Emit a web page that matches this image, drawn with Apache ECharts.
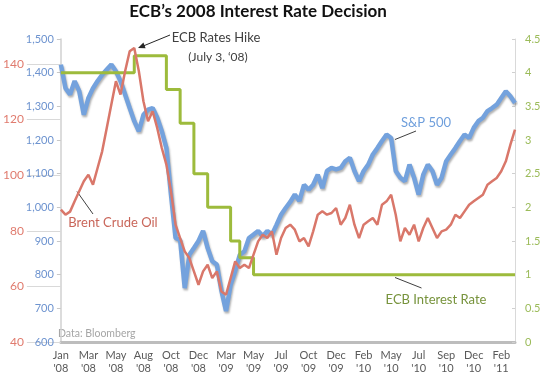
<!DOCTYPE html>
<html>
<head>
<meta charset="utf-8">
<script src="https://cdn.jsdelivr.net/npm/echarts@6/dist/echarts.min.js"></script>
<style>
  html, body { margin: 0; padding: 0; background: #fff; }
  #chart { width: 547px; height: 378px; }
</style>
</head>
<body>
<div id="chart"></div>
<script>
// one label every 6 points
var tickLabels = ["Jan\n'08", "Mar\n'08", "May\n'08", "Aug\n'08", "Oct\n'08", "Dec\n'08", "Mar\n'09", "May\n'09", "Jul\n'09",
    "Oct\n'09", "Dec\n'09", "Feb\n'10", "May\n'10", "Jul\n'10", "Sep\n'10", "Dec\n'10", "Feb\n'11"];

// S&P 500 (left, blue scale)
var spx = [1424,1354,1335,1375,1345,1275,1325,1354,1375,1394,
    1409,1424,1404,1375,1335,1295,1256,1226,1275,1290,
    1295,1266,1226,1176,1038,909,903,760,859,879,
    900,930,879,840,830,752,692,770,811,859,
    869,909,919,930,914,930,919,948,978,998,
    1016,1038,1019,1067,1052,1067,1097,1057,1108,1117,
    1113,1117,1137,1147,1108,1078,1108,1127,1157,1176,
    1197,1216,1206,1108,1088,1078,1127,1088,1038,1097,
    1127,1108,1067,1088,1137,1157,1176,1197,1216,1206,
    1236,1256,1266,1286,1295,1305,1325,1345,1330,1310];

// Brent crude (left, red scale)
var brent = [87.6,85.8,86.9,90.6,94.2,97.8,100.2,96.6,102.6,108.6,
    117,125.4,133.8,129,137.4,144.6,145.8,137.4,126.6,119.4,
    123,117,109.8,103.8,94.2,82.2,77.4,72.6,70.2,65.4,
    60.6,65.4,67.8,63,65.4,58.2,57,63,69,66.6,
    67.8,66.6,71.4,76.2,78.6,77.4,79.8,71.4,77.4,81,
    82.2,80.4,76.2,77.4,74.4,79.8,85.8,87,85.8,86.4,
    88.2,82.2,84.6,89.4,82.2,77.4,82.2,83.4,84.6,82.2,
    89.4,90.6,93,85.8,76.2,81,78.6,82.2,76.2,81,
    84.6,81,77.4,79.8,80.4,82.2,85.8,84.6,87,89.4,
    90.6,91.8,93,96.6,97.8,99,101.4,105,111,116.4];

// ECB rate (right scale)
var ecbRate = [4,4,4,4,4,4,4,4,4,4,
    4,4,4,4,4,4,4.25,4.25,4.25,4.25,
    4.25,4.25,4.25,3.75,3.75,3.75,3.25,3.25,3.25,2.5,
    2.5,2.5,2,2,2,2,2,1.5,1.5,1.25,
    1.25,1.25,1,1,1,1,1,1,1,1,
    1,1,1,1,1,1,1,1,1,1,
    1,1,1,1,1,1,1,1,1,1,
    1,1,1,1,1,1,1,1,1,1,
    1,1,1,1,1,1,1,1,1,1,
    1,1,1,1,1,1,1,1,1,1];

var brentTicks = [40, 60, 80, 100, 120, 140];

var categories = [];
for (var i = 0; i < spx.length; i++) {
    categories.push('p' + i);
}

var font = 'Lato, "Open Sans", sans-serif';
var chart = echarts.init(document.getElementById('chart'));

var option = {
    animation: false,
    backgroundColor: '#fff',
    textStyle: { fontFamily: font },
    grid: { left: 56, right: 32, top: 39, bottom: 36, containLabel: false },
    xAxis: {
        type: 'category',
        data: categories,
        boundaryGap: false,
        axisLine: { onZero: false, lineStyle: { color: '#bdbdbd', width: 3 } },
        axisTick: { show: false },
        axisLabel: {
            interval: 5,
            margin: 7,
            color: '#595959',
            fontSize: 11,
            lineHeight: 13,
            fontFamily: font,
            formatter: function (v, idx) {
                return tickLabels[Math.round(idx / 6)];
            }
        },
        splitLine: { show: false }
    },
    yAxis: [
        {
            type: 'value',
            position: 'left',
            min: 600,
            max: 1500,
            interval: 100,
            axisLine: { show: true, lineStyle: { color: '#d0d0d0', width: 1.5 } },
            axisTick: { show: true, length: 4, lineStyle: { color: '#c8c8c8' } },
            axisLabel: {
                margin: 7,
                color: '#6d93cf',
                fontSize: 11,
                fontFamily: font,
                formatter: function (v) { return v.toLocaleString('en-US'); }
            },
            splitLine: { show: false }
        },
        {
            type: 'value',
            position: 'left',
            min: 40,
            max: 149,
            axisLine: { show: false },
            axisTick: { show: true, length: 34, customValues: brentTicks, lineStyle: { color: '#d9d9d9' } },
            axisLabel: {
                margin: 37,
                color: '#e07b6e',
                fontSize: 12,
                fontFamily: font,
                customValues: brentTicks
            },
            splitLine: { show: false }
        },
        {
            type: 'value',
            position: 'right',
            min: 0,
            max: 4.5,
            interval: 0.5,
            axisLine: { show: true, lineStyle: { color: '#d9d9d9', width: 1 } },
            axisTick: { show: true, inside: true, length: 3, lineStyle: { color: '#d0d0d0' } },
            axisLabel: { margin: 10, color: '#9bbb59', fontSize: 11, fontFamily: font },
            splitLine: { show: false }
        }
    ],
    series: [
        {
            name: 'S&P 500',
            type: 'line',
            yAxisIndex: 0,
            data: spx,
            symbol: 'none',
            lineStyle: {
                color: '#74a2dd',
                width: 4.5,
                shadowColor: 'rgba(0,0,0,0.3)',
                shadowBlur: 2,
                shadowOffsetX: 1,
                shadowOffsetY: 2
            },
            z: 2
        },
        {
            name: 'ECB Interest Rate',
            type: 'line',
            yAxisIndex: 2,
            data: ecbRate,
            step: 'end',
            symbol: 'none',
            lineStyle: { color: '#9dbb3c', width: 3 },
            z: 3
        },
        {
            name: 'Brent Crude Oil',
            type: 'line',
            yAxisIndex: 1,
            data: brent,
            symbol: 'none',
            lineStyle: { color: '#d9776a', width: 2.5 },
            z: 4
        }
    ],
    graphic: [
        { type: 'text', x: 258, y: 12, style: { text: 'ECB\u2019s 2008 Interest Rate Decision', fill: '#111', font: 'bold 17px ' + font, align: 'center', verticalAlign: 'middle' } },
        { type: 'text', x: 216, y: 38, style: { text: 'ECB Rates Hike', fill: '#404040', font: '13px ' + font, align: 'center', verticalAlign: 'middle' } },
        { type: 'text', x: 218, y: 57, style: { text: '(July 3, \u201808)', fill: '#404040', font: '12px ' + font, align: 'center', verticalAlign: 'middle' } },
        { type: 'line', shape: { x1: 170, y1: 35, x2: 142, y2: 46.5 }, style: { stroke: '#262626', lineWidth: 1 } },
        { type: 'polygon', shape: { points: [[138, 48], [145.6, 48.2], [143.4, 42.6]] }, style: { fill: '#262626' } },
        { type: 'text', x: 426, y: 123, style: { text: 'S&P 500', fill: '#6f9fdc', font: '13px ' + font, align: 'center', verticalAlign: 'middle' } },
        { type: 'line', shape: { x1: 416, y1: 131, x2: 395, y2: 139.5 }, style: { stroke: '#404040', lineWidth: 1 } },
        { type: 'text', x: 113, y: 223, style: { text: 'Brent Crude Oil', fill: '#c9665a', font: '13px ' + font, align: 'center', verticalAlign: 'middle' } },
        { type: 'line', shape: { x1: 93, y1: 214, x2: 77, y2: 191.5 }, style: { stroke: '#404040', lineWidth: 1 } },
        { type: 'text', x: 436, y: 300, style: { text: 'ECB Interest Rate', fill: '#77933c', font: '13px ' + font, align: 'center', verticalAlign: 'middle' } },
        { type: 'line', shape: { x1: 395, y1: 277.5, x2: 421.5, y2: 288 }, style: { stroke: '#404040', lineWidth: 1 } },
        { type: 'text', x: 58, y: 333.5, style: { text: 'Data: Bloomberg', fill: '#a6a6a6', font: '10.5px ' + font, align: 'left', verticalAlign: 'middle' } }
    ]
};

chart.setOption(option);
window.onresize = chart.resize;
</script>
</body>
</html>
